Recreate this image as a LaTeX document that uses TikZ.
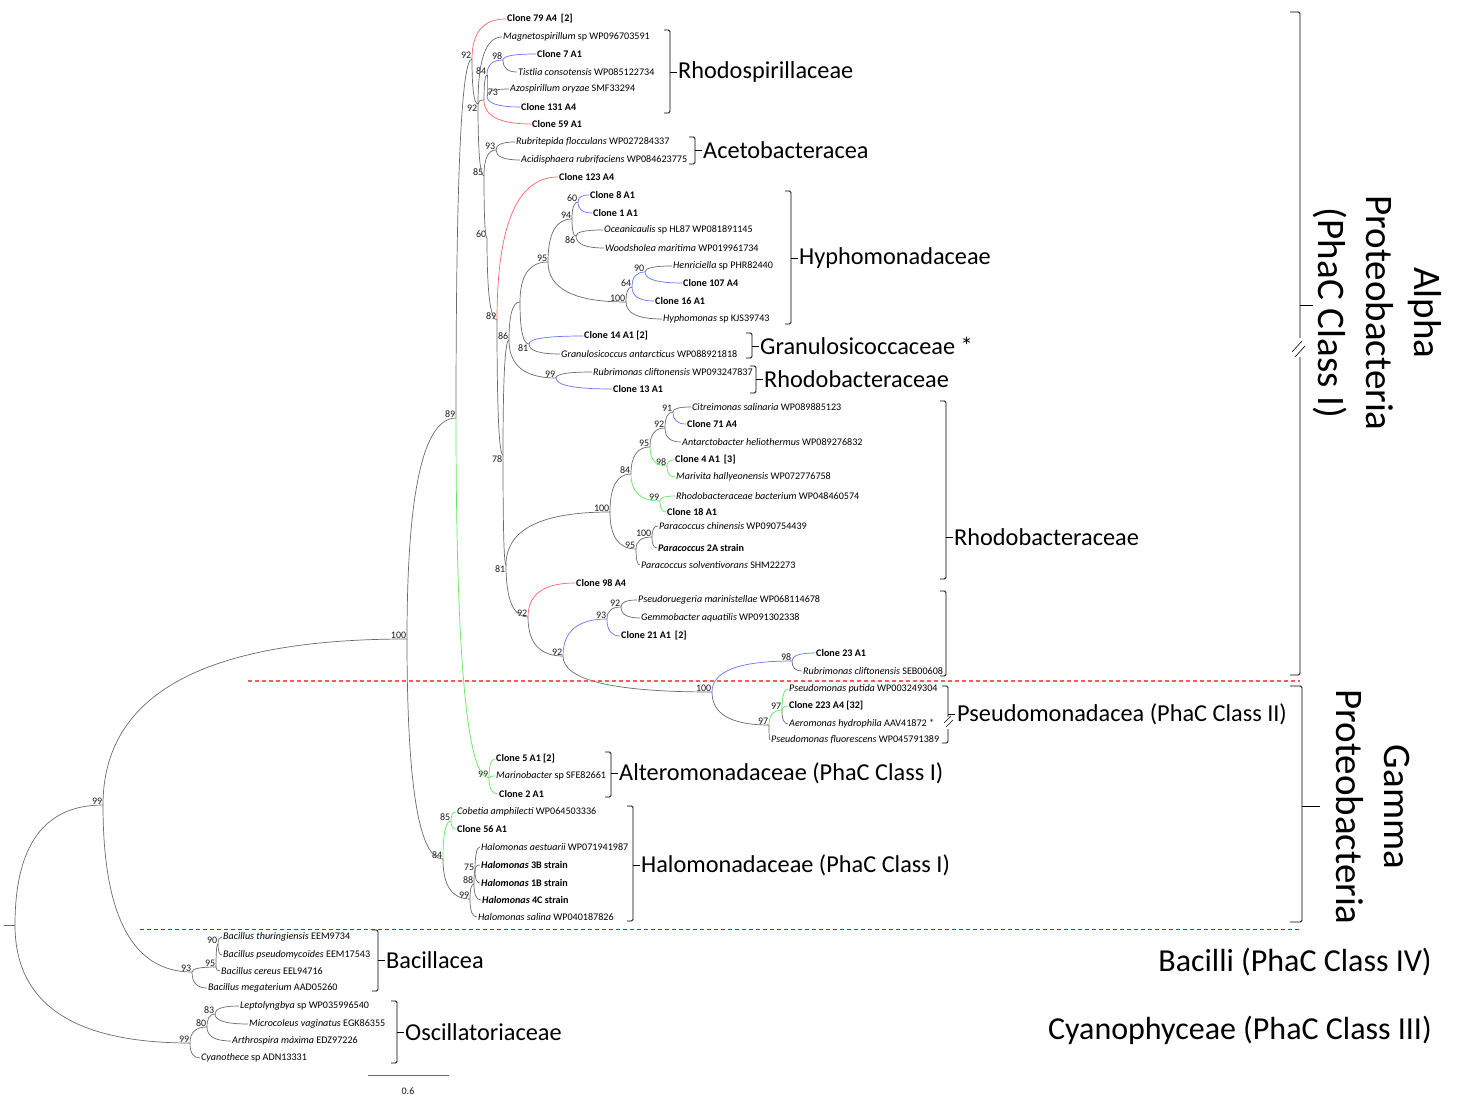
\documentclass[tikz,border=0pt]{standalone}
\usepackage{fontspec}
\setmainfont{Carlito}
\usetikzlibrary{calc}

\definecolor{brgray}{HTML}{6A6A6A}
\definecolor{brred}{HTML}{FF6464}
\definecolor{brblue}{HTML}{6474FF}
\definecolor{brgreen}{HTML}{5EE85E}
\definecolor{cutlight}{HTML}{FF5A5A}
\definecolor{cutdark}{HTML}{C81414}

% curved branch from a parent node to a child
\newcommand{\brn}[3][brgray]{\draw[branch,draw=#1] (#2) .. controls ($(#2)!0.667!(#2|-#3)$) and ($(#3)!0.667!(#2|-#3)$) .. (#3);}
% inner node with its bootstrap value
\newcommand{\inode}[4][south east]{\coordinate (#2) at (#3); \node[boot,anchor=#1] at (#2) {#4};}
% taxon at the tip of a branch
\newcommand{\taxon}[3]{\node[leaf] (#1) at (#2) {#3};}
% bracket with family name: x, top, bottom, tick, text
\newcommand{\famclade}[5]{\draw[famline] (#1-6,#2) -- (#1,#2) -- (#1,#3) -- (#1-6,#3); \draw[famline] (#1,#4) -- (#1+7,#4); \node[famlbl] at (#1+8,#4) {#5};}

\begin{document}
\begin{tikzpicture}[x=1pt, y=-1pt,
  branch/.style={line width=0.7pt},
  leaf/.style={anchor=west, inner sep=1pt, font=\fontsize{10.1}{12}\selectfont},
  boot/.style={inner sep=0.6pt, font=\fontsize{10}{12}\selectfont, text=black!90},
  famline/.style={line width=0.8pt, rounded corners=1.5pt},
  famlbl/.style={anchor=west, inner sep=0pt, font=\fontsize{24.3}{28}\selectfont},
  grouplbl/.style={inner sep=0pt, font=\fontsize{39}{48}\selectfont, align=center, rotate=-90},
  classlbl/.style={anchor=east, inner sep=0pt, font=\fontsize{32}{38}\selectfont},
  cut/.style={dash pattern=on 4pt off 3pt, line width=1.1pt}]

\useasboundingbox (0,0) rectangle (1460,1099);

% taxa
\taxon{c79}{506,19}{\textbf{Clone 79 A4 \,[2]}}
\taxon{magn}{502,37}{\textit{Magnetospirillum} sp WP096703591}
\taxon{c7}{536,54}{\textbf{Clone 7 A1}}
\taxon{tist}{517,72}{\textit{Tistlia consotensis} WP085122734}
\taxon{azo}{509,89}{\textit{Azospirillum oryzae} SMF33294}
\taxon{c131}{520,107}{\textbf{Clone 131 A4}}
\taxon{c59}{531,124}{\textbf{Clone 59 A1}}
\taxon{rubr}{515,142}{\textit{Rubritepida flocculans} WP027284337}
\taxon{acid}{520,160}{\textit{Acidisphaera rubrifaciens} WP084623775}
\taxon{c123}{558,177}{\textbf{Clone 123 A4}}
\taxon{c8}{589,195}{\textbf{Clone 8 A1}}
\taxon{c1}{592,213}{\textbf{Clone 1 A1}}
\taxon{ocea}{603,230}{\textit{Oceanicaulis} sp HL87 WP081891145}
\taxon{wood}{604,248}{\textit{Woodsholea maritima} WP019961734}
\taxon{henr}{672,266}{\textit{Henriciella} sp PHR82440}
\taxon{c107}{682,283}{\textbf{Clone 107 A4}}
\taxon{c16}{654,301}{\textbf{Clone 16 A1}}
\taxon{hyph}{662,319}{\textit{Hyphomonas} sp KJS39743}
\taxon{c14}{583,336}{\textbf{Clone 14 A1 [2]}}
\taxon{gran}{560,354}{\textit{Granulosicoccus antarcticus} WP088921818}
\taxon{rubc}{592,372}{\textit{Rubrimonas cliftonensis} WP093247837}
\taxon{c13}{612,389}{\textbf{Clone 13 A1}}
\taxon{citr}{691,407}{\textit{Citreimonas salinaria} WP089885123}
\taxon{c71}{686,424}{\textbf{Clone 71 A4}}
\taxon{anta}{681,442}{\textit{Antarctobacter heliothermus} WP089276832}
\taxon{c4}{674,460}{\textbf{Clone 4 A1 \,[3]}}
\taxon{mari}{675,477}{\textit{Marivita hallyeonensis} WP072776758}
\taxon{rhba}{675,496}{\textit{Rhodobacteraceae bacterium} WP048460574}
\taxon{c18}{666,512}{\textbf{Clone 18 A1}}
\taxon{pchi}{658,526}{\textit{Paracoccus chinensis} WP090754439}
\taxon{p2a}{657,548}{\textbf{\textit{Paracoccus} 2A strain}}
\taxon{psol}{640,565}{\textit{Paracoccus solventivorans} SHM22273}
\taxon{c98}{575,583}{\textbf{Clone 98 A4}}
\taxon{pseu}{637,600}{\textit{Pseudoruegeria marinistellae} WP068114678}
\taxon{gemm}{640,618}{\textit{Gemmobacter aquatilis} WP091302338}
\taxon{c21}{620,636}{\textbf{Clone 21 A1 \,[2]}}
\taxon{c23}{815,653}{\textbf{Clone 23 A1}}
\taxon{rubs}{802,671}{\textit{Rubrimonas cliftonensis} SEB00608}
\taxon{pput}{788,689}{\textit{Pseudomonas putida} WP003249304}
\taxon{c223}{788,706}{\textbf{Clone 223 A4 [32]}}
\taxon{aero}{788,724}{\textit{Aeromonas hydrophila} AAV41872 *}
\taxon{pflu}{770,740}{\textit{Pseudomonas fluorescens} WP045791389}
\taxon{c5}{495,759}{\textbf{Clone 5 A1 [2]}}
\taxon{mari2}{495,776}{\textit{Marinobacter} sp SFE82661}
\taxon{c2}{498,794}{\textbf{Clone 2 A1}}
\taxon{cobe}{456,812}{\textit{Cobetia amphilecti} WP064503336}
\taxon{c56}{456,829}{\textbf{Clone 56 A1}}
\taxon{haes}{480,847}{\textit{Halomonas aestuarii} WP071941987}
\taxon{h3b}{480,865}{\textbf{\textit{Halomonas} 3B strain}}
\taxon{h1b}{480,883}{\textbf{\textit{Halomonas} 1B strain}}
\taxon{h4c}{481,900}{\textbf{\textit{Halomonas} 4C strain}}
\taxon{hsal}{477,917}{\textit{Halomonas salina} WP040187826}
\taxon{bthu}{222,937}{\textit{Bacillus thuringiensis} EEM9734}
\taxon{bpse}{222,955}{\textit{Bacillus pseudomycoides} EEM17543}
\taxon{bcer}{220,971}{\textit{Bacillus cereus} EEL94716}
\taxon{bmeg}{207,988}{\textit{Bacillus megaterium} AAD05260}
\taxon{lept}{239,1006}{\textit{Leptolyngbya} sp WP035996540}
\taxon{micr}{248,1024}{\textit{Microcoleus vaginatus} EGK86355}
\taxon{arth}{231,1041}{\textit{Arthrospira máxima} EDZ97226}
\taxon{cyan}{200,1058}{\textit{Cyanothece} sp ADN13331}

% inner nodes
\coordinate (stub) at (4,925);
\coordinate (r0) at (15,925);
\inode{n99a}{103,805}{99}
\inode{n99c}{190,1043}{99}
\inode{n93c}{192,972}{93}
\inode{n95c}{216,967}{95}
\inode{n90}{218,944}{90}
\inode{n80}{207,1027}{80}
\inode{n83}{215,1014}{83}
\inode{n100a}{407,639}{100}
\inode{n89a}{456,418}{89}
\inode{n84h}{443,859}{84}
\inode{n92a}{472,59}{92}
\inode{n99g}{489,778}{99}
\inode[north east]{n92b}{478,104}{92}
\coordinate (nr) at (484,100);
\inode{n84}{487,75}{84}
\inode[south west]{n73}{487,96}{73}
\inode{n98}{503,60}{98}
\inode{n85}{484,176}{85}
\inode{n93}{496,150}{93}
\inode{n60}{487,238}{60}
\inode{n89b}{497,320}{89}
\inode[north east]{n78}{503,455}{78}
\inode{n86}{509,340}{86}
\coordinate (nh) at (520,302);
\inode{n95}{548,262}{95}
\inode{n94}{572,219}{94}
\inode{n60h}{578,202}{60}
\inode[north east]{n86h}{576,236}{86}
\inode{n100h}{626,302}{100}
\inode{n64}{632,287}{64}
\inode{n90h}{645,272}{90}
\inode[north east]{n81g}{529,344}{81}
\inode{n99r}{556,378}{99}
\inode[north east]{n81}{506,565}{81}
\inode{n100r}{610,512}{100}
\inode{n84r}{631,474}{84}
\inode{n95a}{650,447}{95}
\inode{n92d}{665,428}{92}
\inode{n91}{673,412}{91}
\inode{n98b}{667,466}{98}
\inode{n99b}{660,501}{99}
\inode{n95p}{636,549}{95}
\inode{n100p}{652,537}{100}
\inode{n92c}{528,617}{92}
\inode{n92e}{563,656}{92}
\inode{n93b}{607,619}{93}
\inode{n92f}{621,607}{92}
\inode{n100g}{712,692}{100}
\inode{n98c}{792,661}{98}
\inode{n97a}{769,725}{97}
\inode{n97b}{782,710}{97}
\inode{n85h}{451,821}{85}
\inode{n99h}{470,899}{99}
\inode{n88}{474,884}{88}
\inode{n75}{475,871}{75}

% branches
\draw[branch,draw=brgray] (stub) -- (r0);
\brn{r0}{n99a} \brn{r0}{n99c}
\brn{n99a}{n100a} \brn{n99a}{n93c}
\brn{n93c}{n95c} \brn{n93c}{bmeg.west}
\brn{n95c}{n90} \brn{n95c}{bcer.west}
\brn{n90}{bthu.west} \brn{n90}{bpse.west}
\brn{n99c}{n80} \brn{n99c}{cyan.west}
\brn{n80}{n83} \brn{n80}{arth.west}
\brn{n83}{lept.west} \brn{n83}{micr.west}
\brn{n100a}{n89a} \brn{n100a}{n84h}
\brn{n89a}{n92a} \brn[brgreen]{n89a}{n99g}
\brn[brred]{n92a}{c79.west} \brn{n92a}{n92b}
\brn{n92b}{magn.west} \brn{n92b}{nr} \brn{n92b}{n85}
\brn{nr}{n84} \brn[brred]{nr}{c59.west}
\brn[brblue]{n84}{n98} \brn{n84}{n73}
\brn[brblue]{n98}{c7.west} \brn{n98}{tist.west}
\brn{n73}{azo.west} \brn[brblue]{n73}{c131.west}
\brn{n85}{n93} \brn{n85}{n60}
\brn{n93}{rubr.west} \brn{n93}{acid.west}
\brn{n60}{n89b}
\brn[brred]{n89b}{c123.west} \brn{n89b}{n78}
\brn{n78}{n86} \brn{n78}{n81}
\brn{n86}{nh} \brn{n86}{n99r}
\brn{nh}{n95} \brn{nh}{n81g}
\brn{n95}{n94} \brn{n95}{n100h}
\brn{n94}{n60h} \brn{n94}{n86h}
\brn[brblue]{n60h}{c8.west} \brn[brblue]{n60h}{c1.west}
\brn{n86h}{ocea.west} \brn{n86h}{wood.west}
\brn{n100h}{n64} \brn{n100h}{hyph.west}
\brn[brblue]{n64}{n90h} \brn[brblue]{n64}{c16.west}
\brn{n90h}{henr.west} \brn[brblue]{n90h}{c107.west}
\brn[brblue]{n81g}{c14.west} \brn{n81g}{gran.west}
\brn{n99r}{rubc.west} \brn[brblue]{n99r}{c13.west}
\brn{n81}{n100r} \brn{n81}{n92c}
\brn{n100r}{n84r} \brn{n100r}{n95p}
\brn{n84r}{n95a} \brn[brgreen]{n84r}{n99b}
\brn{n95a}{n92d} \brn[brgreen]{n95a}{n98b}
\brn{n92d}{n91} \brn{n92d}{anta.west}
\brn{n91}{citr.west} \brn[brblue]{n91}{c71.west}
\brn[brgreen]{n98b}{c4.west} \brn[brgreen]{n98b}{mari.west}
\brn[brgreen]{n99b}{rhba.west} \brn[brgreen]{n99b}{c18.west}
\brn{n95p}{n100p} \brn{n95p}{psol.west}
\brn{n100p}{pchi.west} \brn{n100p}{p2a.west}
\brn[brred]{n92c}{c98.west} \brn{n92c}{n92e}
\brn[brblue]{n92e}{n93b} \brn{n92e}{n100g}
\brn{n93b}{n92f} \brn[brblue]{n93b}{c21.west}
\brn{n92f}{pseu.west} \brn{n92f}{gemm.west}
\brn[brblue]{n100g}{n98c} \brn{n100g}{n97a}
\brn[brblue]{n98c}{c23.west} \brn{n98c}{rubs.west}
\brn[brgreen]{n97a}{n97b} \brn{n97a}{pflu.west}
\brn[brgreen]{n97b}{pput.west} \brn[brgreen]{n97b}{c223.west} \brn{n97b}{aero.west}
\brn[brgreen]{n99g}{c5.west} \brn[brgreen]{n99g}{mari2.west} \brn[brgreen]{n99g}{c2.west}
\brn[brgreen]{n84h}{n85h} \brn{n84h}{n99h}
\brn[brgreen]{n85h}{cobe.west} \brn[brgreen]{n85h}{c56.west}
\brn{n99h}{n88} \brn{n99h}{hsal.west}
\brn{n88}{n75} \brn{n88}{h4c.west}
\brn{n75}{haes.west} \brn{n75}{h3b.west} \brn{n75}{h1b.west}

% families
\famclade{670}{30}{113}{72}{Rhodospirillaceae}
\famclade{695}{137}{164}{150}{Acetobacteracea}
\famclade{791}{191}{324}{258}{Hyphomonadaceae}
\famclade{752}{333}{358}{346}{Granulosicoccaceae *}
\famclade{756}{366}{393}{379}{Rhodobacteraceae}
\famclade{946}{401}{579}{537}{Rhodobacteraceae}
\draw[famline] (940,591) -- (946,591) -- (946,676) -- (940,676);
\famclade{611}{752}{797}{773}{Alteromonadaceae (PhaC Class I)}
\famclade{633}{806}{921}{865}{Halomonadaceae (PhaC Class I)}
\famclade{378}{930}{991}{960}{Bacillacea}
\famclade{397}{1001}{1063}{1032}{Oscillatoriaceae}
% Pseudomonadacea, broken bracket
\draw[famline] (942,686) -- (948,686) -- (948,717);
\draw[famline] (948,729) -- (948,743) -- (942,743);
\draw[famline] (948,714) -- (955,714);
\draw[line width=0.6pt] (944,723) -- (951,716) (946,727) -- (953,720);
\node[famlbl] at (957,714) {Pseudomonadacea (PhaC Class II)};

% classes
\draw[famline] (1290,12) -- (1300,12) -- (1300,338);
\draw[famline] (1300,357) -- (1300,675) -- (1290,675);
\draw[famline] (1300,305) -- (1313,305);
\draw[line width=0.6pt] (1292,352) -- (1302,341) (1295,357) -- (1305,346);
\node[grouplbl] at (1377,313) {Alpha\\Proteobacteria\\(PhaC Class I)};
\draw[famline] (1290,686) -- (1302,686) -- (1302,922) -- (1290,922);
\draw[famline] (1302,806) -- (1320,806);
\node[grouplbl] at (1373,807) {Gamma\\Proteobacteria};
\node[classlbl] at (1432,962) {Bacilli (PhaC Class IV)};
\node[classlbl] at (1432,1030) {Cyanophyceae (PhaC Class III)};

% class limits
\draw[cut,draw=cutlight] (248,681) -- (1300,681);
\draw[cut,draw=cutdark,line width=0.8pt] (140,929) -- (1300,929);

% scale
\coordinate (sb1) at (368,1075);
\coordinate (sb2) at (449,1075);
\draw[branch,draw=brgray] (sb1) -- (sb2);
\node[boot] at (408,1091) {0.6};
\end{tikzpicture}
\end{document}
